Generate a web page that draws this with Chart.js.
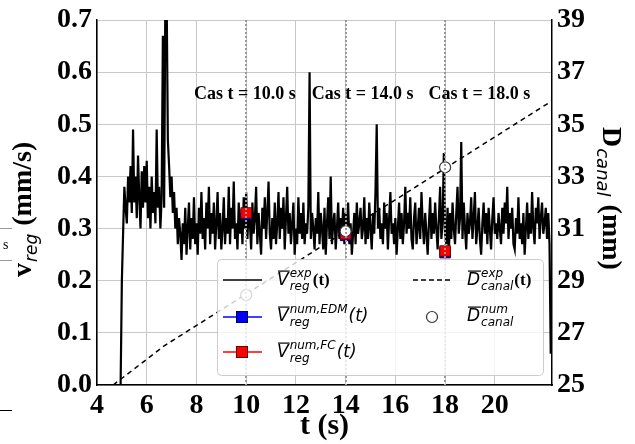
<!DOCTYPE html>
<html>
<head>
<meta charset="utf-8">
<script src="https://cdn.jsdelivr.net/npm/chart.js@4"></script>
<style>
  html, body { margin: 0; padding: 0; background: #fff; }
  canvas { display: block; }
</style>
</head>
<body>
<canvas id="regChart" width="635" height="444"></canvas>
<script>
const tExp = [
  4.0, 4.95, 5.0, 5.06, 5.1, 5.15, 5.2, 5.25, 5.3, 5.35,
  5.4, 5.45, 5.5, 5.55, 5.6, 5.65, 5.7, 5.75, 5.8, 5.85,
  5.9, 5.95, 6.0, 6.05, 6.1, 6.15, 6.2, 6.25, 6.3, 6.35,
  6.4, 6.45, 6.5, 6.55, 6.6, 6.65, 6.7, 6.75, 6.8, 6.85,
  6.9, 6.95, 7.0, 7.05, 7.1, 7.15, 7.2, 7.25, 7.3,
  7.35, 7.4, 7.45, 7.5, 7.55, 7.6, 7.65, 7.7, 7.75, 7.8,
  7.85, 7.9, 7.95, 8.0, 8.05, 8.1, 8.15, 8.2, 8.25, 8.3,
  8.35, 8.4, 8.45, 8.5, 8.55, 8.6, 8.65, 8.7, 8.75, 8.8,
  8.85, 8.9, 8.95, 9.0, 9.05, 9.1, 9.15, 9.2, 9.25, 9.3,
  9.35, 9.4, 9.45, 9.5, 9.55, 9.6, 9.65, 9.7, 9.75, 9.8,
  9.85, 9.9, 9.95, 10.0, 10.05, 10.1, 10.15, 10.2, 10.25, 10.3,
  10.35, 10.4, 10.45, 10.5, 10.55, 10.6, 10.65, 10.7, 10.75, 10.8,
  10.85, 10.9, 10.95, 11.0, 11.05, 11.1, 11.15, 11.2, 11.25, 11.3,
  11.35, 11.4, 11.45, 11.5, 11.55, 11.6, 11.65, 11.7, 11.75, 11.8,
  11.85, 11.9, 11.95, 12.0, 12.05, 12.1, 12.15, 12.2, 12.25, 12.3,
  12.35, 12.4, 12.45, 12.5, 12.55, 12.6, 12.65, 12.7, 12.75, 12.8,
  12.85, 12.9, 12.95, 13.0, 13.05, 13.1, 13.15, 13.2, 13.25, 13.3,
  13.35, 13.4, 13.45, 13.5, 13.55, 13.6, 13.65, 13.7, 13.75, 13.8,
  13.85, 13.9, 13.95, 14.0, 14.05, 14.1, 14.15, 14.2, 14.25, 14.3,
  14.35, 14.4, 14.45, 14.5, 14.55, 14.6, 14.65, 14.7, 14.75, 14.8,
  14.85, 14.9, 14.95, 15.0, 15.05, 15.1, 15.15, 15.2, 15.25, 15.3,
  15.35, 15.4, 15.45, 15.5, 15.55, 15.6, 15.65, 15.7, 15.75, 15.8,
  15.85, 15.9, 15.95, 16.0, 16.05, 16.1, 16.15, 16.2, 16.25, 16.3,
  16.35, 16.4, 16.45, 16.5, 16.55, 16.6, 16.65, 16.7, 16.75, 16.8,
  16.85, 16.9, 16.95, 17.0, 17.05, 17.1, 17.15, 17.2, 17.25, 17.3,
  17.35, 17.4, 17.45, 17.5, 17.55, 17.6, 17.65, 17.7, 17.75, 17.8,
  17.85, 17.9, 17.95, 18.0, 18.05, 18.1, 18.15, 18.2, 18.25, 18.3,
  18.35, 18.4, 18.45, 18.5, 18.55, 18.6, 18.65, 18.7, 18.75, 18.8,
  18.85, 18.9, 18.95, 19.0, 19.05, 19.1, 19.15, 19.2, 19.25, 19.3,
  19.35, 19.4, 19.45, 19.5, 19.55, 19.6, 19.65, 19.7, 19.75, 19.8,
  19.85, 19.9, 19.95, 20.0, 20.05, 20.1, 20.15, 20.2, 20.25, 20.3,
  20.35, 20.4, 20.45, 20.5, 20.55, 20.6, 20.65, 20.7, 20.75, 20.8,
  20.85, 20.9, 20.95, 21.0, 21.05, 21.1, 21.15, 21.2, 21.25, 21.3,
  21.35, 21.4, 21.45, 21.5, 21.55, 21.6, 21.65, 21.7, 21.75, 21.8,
  21.85, 21.9, 21.95, 22.0, 22.05, 22.1, 22.15, 22.2, 22.25
];
const vExp = [
  0, 0, 0.20, 0.31, 0.38, 0.34, 0.31, 0.40, 0.35, 0.42,
  0.33, 0.49, 0.35, 0.40, 0.32, 0.44, 0.36, 0.30, 0.41, 0.34,
  0.42, 0.35, 0.43, 0.32, 0.38, 0.30, 0.40, 0.33, 0.37, 0.31,
  0.49, 0.34, 0.38, 0.30, 0.36, 0.67, 0.34, 0.75, 0.75, 0.47,
  0.42, 0.36, 0.40, 0.33, 0.37, 0.30, 0.34, 0.27, 0.32,
  0.29, 0.24, 0.31, 0.27, 0.34, 0.25, 0.30, 0.35, 0.26, 0.32,
  0.28, 0.36, 0.27, 0.31, 0.25, 0.34, 0.29, 0.37, 0.28, 0.32,
  0.26, 0.35, 0.30, 0.38, 0.27, 0.33, 0.29, 0.35, 0.26, 0.31,
  0.37, 0.28, 0.33, 0.26, 0.30, 0.36, 0.27, 0.32, 0.29, 0.38,
  0.27, 0.34, 0.30, 0.39, 0.28, 0.31, 0.26, 0.35, 0.29, 0.33,
  0.27, 0.36, 0.30, 0.37, 0.28, 0.34, 0.31, 0.26, 0.35, 0.29,
  0.32, 0.38, 0.27, 0.33, 0.29, 0.25, 0.34, 0.30, 0.36, 0.28,
  0.33, 0.39, 0.29, 0.26, 0.32, 0.28, 0.35, 0.27, 0.31, 0.37,
  0.28, 0.34, 0.30, 0.36, 0.26, 0.32, 0.38, 0.29, 0.33, 0.27,
  0.31, 0.35, 0.25, 0.30, 0.27, 0.36, 0.29, 0.33, 0.28, 0.35,
  0.27, 0.31, 0.29, 0.34, 0.60, 0.28, 0.33, 0.30, 0.26, 0.32,
  0.29, 0.37, 0.27, 0.33, 0.30, 0.26, 0.34, 0.25, 0.31, 0.36,
  0.28, 0.40, 0.27, 0.31, 0.33, 0.26, 0.30, 0.35, 0.28, 0.32,
  0.29, 0.34, 0.27, 0.33, 0.30, 0.35, 0.27, 0.31, 0.25, 0.29,
  0.33, 0.27, 0.35, 0.29, 0.31, 0.34, 0.28, 0.30, 0.36, 0.27,
  0.32, 0.28, 0.35, 0.30, 0.26, 0.33, 0.29, 0.37, 0.50, 0.30,
  0.34, 0.28, 0.31, 0.27, 0.35, 0.30, 0.33, 0.26, 0.32, 0.37,
  0.29, 0.31, 0.27, 0.32, 0.25, 0.30, 0.35, 0.28, 0.33, 0.27,
  0.31, 0.38, 0.29, 0.33, 0.30, 0.36, 0.28, 0.26, 0.32, 0.35,
  0.27, 0.30, 0.34, 0.28, 0.37, 0.31, 0.27, 0.33, 0.29, 0.25,
  0.31, 0.36, 0.28, 0.33, 0.29, 0.35, 0.30, 0.26, 0.32, 0.38,
  0.28, 0.31, 0.445, 0.29, 0.27, 0.34, 0.25, 0.33, 0.28, 0.35,
  0.30, 0.27, 0.33, 0.38, 0.29, 0.32, 0.466, 0.28, 0.35, 0.30,
  0.26, 0.33, 0.29, 0.31, 0.36, 0.28, 0.32, 0.37, 0.27, 0.30,
  0.34, 0.28, 0.25, 0.31, 0.35, 0.29, 0.33, 0.27, 0.34, 0.30,
  0.26, 0.32, 0.36, 0.29, 0.31, 0.28, 0.33, 0.30, 0.27, 0.34,
  0.29, 0.35, 0.31, 0.38, 0.28, 0.33, 0.30, 0.34, 0.27, 0.26,
  0.32, 0.29, 0.36, 0.28, 0.31, 0.27, 0.33, 0.25, 0.30, 0.35,
  0.28, 0.33, 0.29, 0.37, 0.30, 0.27, 0.34, 0.31, 0.36, 0.28,
  0.32, 0.35, 0.29, 0.31, 0.34, 0.28, 0.33, 0.27, 0.06
];

// measured canal diameter D_canal^exp(t) in mm
const tCanal = [4.65, 6.7, 22.3];
const dCanal = [25, 26.5, 35.9];

// simulated cases
const caseTimes = [10, 14, 18];
const vEdm = [0.327, 0.287, 0.254];
const vFc = [0.330, 0.290, 0.257];
const dNum = [28.45, 30.9, 33.35];

// axis ticks
const xTicks = [4, 6, 8, 10, 12, 14, 16, 18, 20];
const vTicks = [0, 0.1, 0.2, 0.3, 0.4, 0.5, 0.6, 0.7];
const dTicks = [25, 27, 29, 31, 33, 35, 37, 39];

const SERIF = '"Liberation Serif", "Times New Roman", serif';
const SANS = '"DejaVu Sans", sans-serif';
const tickFont = { family: SERIF, size: 28, weight: 'bold' };

function pts(xs, ys) {
  return xs.map((x, i) => ({ x: x, y: ys[i] }));
}

// label like \overline{V}^{sup}_{sub} followed by a tail
function mathLabel(ctx, x, y, base, sup, sub, tail, tailFont) {
  ctx.font = 'italic 17px ' + SANS;
  ctx.fillText(base, x, y);
  const w = ctx.measureText(base).width;
  ctx.fillRect(x + 1, y - 14.5, w, 1.2);
  ctx.font = 'italic 12px ' + SANS;
  ctx.fillText(sup, x + w + 1, y - 8);
  ctx.fillText(sub, x + w + 1, y + 5);
  const w2 = Math.max(ctx.measureText(sup).width, ctx.measureText(sub).width);
  if (tail) {
    ctx.font = tailFont;
    ctx.fillText(tail, x + w + w2 + 2, y);
  }
}

const overlay = {
  id: 'overlay',
  afterDatasetsDraw(chart) {
    const { ctx, chartArea: a, scales: { x } } = chart;
    const ds = chart.data.datasets;

    // dotted lines at the simulated instants
    ctx.save();
    ctx.strokeStyle = '#999';
    ctx.lineWidth = 2;
    ctx.setLineDash([2, 2]);
    caseTimes.forEach(t => {
      const px = Math.round(x.getPixelForValue(t));
      ctx.beginPath();
      ctx.moveTo(px, a.top);
      ctx.lineTo(px, a.bottom);
      ctx.stroke();
    });
    ctx.restore();

    // case labels
    ctx.save();
    ctx.fillStyle = '#000';
    ctx.font = 'bold 18px ' + SERIF;
    ctx.textBaseline = 'alphabetic';
    const labelStart = [7.9, 12.64, 17.33];
    caseTimes.forEach((t, i) => {
      ctx.fillText('Cas t = ' + t.toFixed(1) + ' s', x.getPixelForValue(labelStart[i]), 99);
    });
    ctx.restore();

    // legend box
    ctx.save();
    ctx.fillStyle = 'rgba(255,255,255,0.8)';
    ctx.strokeStyle = '#cccccc';
    ctx.lineWidth = 1;
    ctx.beginPath();
    ctx.roundRect(217.5, 259.5, 326, 116, 4);
    ctx.fill();
    ctx.stroke();

    const row = [280, 317, 352];
    const lineSeg = (x1, x2, y, color, dash) => {
      ctx.save();
      ctx.strokeStyle = color;
      ctx.lineWidth = 1.6;
      ctx.setLineDash(dash || []);
      ctx.beginPath();
      ctx.moveTo(x1, y);
      ctx.lineTo(x2, y);
      ctx.stroke();
      ctx.restore();
    };
    const square = (cx, cy, d) => {
      ctx.fillStyle = d.backgroundColor;
      ctx.strokeStyle = d.borderColor;
      ctx.lineWidth = 1;
      ctx.fillRect(cx - 5.5, cy - 5.5, 11, 11);
      ctx.strokeRect(cx - 5.5, cy - 5.5, 11, 11);
    };
    lineSeg(223, 262, row[0], ds[0].borderColor);
    lineSeg(223, 262, row[1], ds[2].backgroundColor);
    square(242, row[1], ds[2]);
    lineSeg(223, 262, row[2], ds[3].backgroundColor);
    square(242, row[2], ds[3]);
    lineSeg(413, 452, row[0], ds[1].borderColor, [5, 3]);
    ctx.fillStyle = '#fff';
    ctx.strokeStyle = '#333';
    ctx.lineWidth = 1.2;
    ctx.beginPath();
    ctx.arc(432, row[1], 5.5, 0, Math.PI * 2);
    ctx.fill();
    ctx.stroke();

    ctx.fillStyle = '#000';
    ctx.textBaseline = 'alphabetic';
    mathLabel(ctx, 277, 285, 'V', 'exp', 'reg', '(t)', 'bold 17px ' + SERIF);
    mathLabel(ctx, 277, 321, 'V', 'num,EDM', 'reg', '(t)', 'italic 17px ' + SANS);
    mathLabel(ctx, 277, 357, 'V', 'num,FC', 'reg', '(t)', 'italic 17px ' + SANS);
    mathLabel(ctx, 467, 285, 'D', 'exp', 'canal', '(t)', 'bold 17px ' + SERIF);
    mathLabel(ctx, 467, 321, 'D', 'num', 'canal', '', '');
    ctx.restore();
  },
  afterDraw(chart) {
    const { ctx, chartArea: a } = chart;
    ctx.save();
    ctx.fillStyle = '#000';
    ctx.textBaseline = 'alphabetic';

    // x title
    ctx.font = 'bold 30px ' + SERIF;
    ctx.textAlign = 'center';
    ctx.fillText('t (s)', (a.left + a.right) / 2, 434);
    ctx.textAlign = 'left';

    // left title, reads bottom to top
    ctx.save();
    ctx.translate(31, 277);
    ctx.rotate(-Math.PI / 2);
    ctx.font = 'bold 28px ' + SERIF;
    ctx.fillText('v', 0, 0);
    let w = ctx.measureText('v').width;
    ctx.font = 'italic 17px ' + SANS;
    ctx.fillText('reg', w + 1, 6);
    w += ctx.measureText('reg').width + 2;
    ctx.font = 'bold 28px ' + SERIF;
    ctx.fillText(' (mm/s)', w, 0);
    ctx.restore();

    // right title, reads top to bottom
    ctx.save();
    ctx.translate(603, 127);
    ctx.rotate(Math.PI / 2);
    ctx.font = 'bold 28px ' + SERIF;
    ctx.fillText('D', 0, 0);
    w = ctx.measureText('D').width;
    ctx.font = 'italic 18px ' + SANS;
    ctx.fillText('canal', w + 1, 6);
    w += ctx.measureText('canal').width + 2;
    ctx.font = 'bold 28px ' + SERIF;
    ctx.fillText(' (mm)', w, 0);
    ctx.restore();

    // cropped leftovers at the left edge of the figure
    ctx.strokeStyle = '#999';
    ctx.lineWidth = 1;
    ctx.beginPath();
    ctx.moveTo(0, 228.5); ctx.lineTo(12, 228.5);
    ctx.moveTo(0, 260.5); ctx.lineTo(12, 260.5);
    ctx.stroke();
    ctx.strokeStyle = '#000';
    ctx.beginPath();
    ctx.moveTo(0, 410.5); ctx.lineTo(12, 410.5);
    ctx.stroke();
    ctx.font = '14px ' + SERIF;
    ctx.fillText('s', 3, 249);
    ctx.restore();
  }
};

new Chart(document.getElementById('regChart'), {
  type: 'line',
  data: {
    datasets: [
      {
        label: 'v_reg exp',
        data: pts(tExp, vExp),
        borderColor: '#000',
        borderWidth: 2.2,
        pointRadius: 0,
        yAxisID: 'y',
        order: 4
      },
      {
        label: 'D_canal exp',
        data: pts(tCanal, dCanal),
        borderColor: '#000',
        borderWidth: 1.5,
        borderDash: [5, 4],
        pointRadius: 0,
        yAxisID: 'yR',
        order: 5
      },
      {
        label: 'v_reg num EDM',
        data: pts(caseTimes, vEdm),
        showLine: false,
        pointStyle: 'rect',
        pointRadius: 7.5,
        backgroundColor: '#0000ff',
        borderColor: '#000060',
        borderWidth: 1,
        yAxisID: 'y',
        order: 3
      },
      {
        label: 'v_reg num FC',
        data: pts(caseTimes, vFc),
        showLine: false,
        pointStyle: 'rect',
        pointRadius: 7.5,
        backgroundColor: '#ff0000',
        borderColor: '#600000',
        borderWidth: 0.8,
        yAxisID: 'y',
        order: 2
      },
      {
        label: 'D_canal num',
        data: pts(caseTimes, dNum),
        showLine: false,
        pointStyle: 'circle',
        pointRadius: 5.5,
        backgroundColor: '#fff',
        borderColor: '#333',
        borderWidth: 1.2,
        yAxisID: 'yR',
        order: 1
      }
    ]
  },
  options: {
    responsive: false,
    animation: false,
    devicePixelRatio: 1,
    layout: { padding: { top: 20, left: 0, right: 0, bottom: 0 } },
    plugins: { legend: { display: false }, tooltip: { enabled: false } },
    scales: {
      x: {
        type: 'linear',
        min: 4,
        max: 22.3,
        afterBuildTicks: s => { s.ticks = xTicks.map(v => ({ value: v })); },
        afterFit: s => { s.height = 59; s.paddingLeft = 0; s.paddingRight = 0; },
        grid: { color: '#c8c8c8', lineWidth: 1, drawTicks: false },
        border: { color: '#000', width: 1.5 },
        ticks: { font: tickFont, color: '#000', padding: 4, maxRotation: 0, callback: v => String(v) }
      },
      y: {
        position: 'left',
        min: 0,
        max: 0.7,
        afterBuildTicks: s => { s.ticks = vTicks.map(v => ({ value: v })); },
        afterFit: s => { s.width = 97; s.paddingTop = 0; s.paddingBottom = 0; },
        grid: { color: '#c8c8c8', lineWidth: 1, drawTicks: false },
        border: { color: '#000', width: 1.5 },
        ticks: { font: tickFont, color: '#000', padding: 5, callback: v => v.toFixed(1) }
      },
      yR: {
        position: 'right',
        min: 25,
        max: 39,
        afterBuildTicks: s => { s.ticks = dTicks.map(v => ({ value: v })); },
        afterFit: s => { s.width = 83; s.paddingTop = 0; s.paddingBottom = 0; },
        grid: { drawOnChartArea: false, drawTicks: false },
        border: { color: '#000', width: 1.5 },
        ticks: { font: tickFont, color: '#000', padding: 5, callback: v => String(v) }
      }
    }
  },
  plugins: [overlay]
});
</script>
</body>
</html>
